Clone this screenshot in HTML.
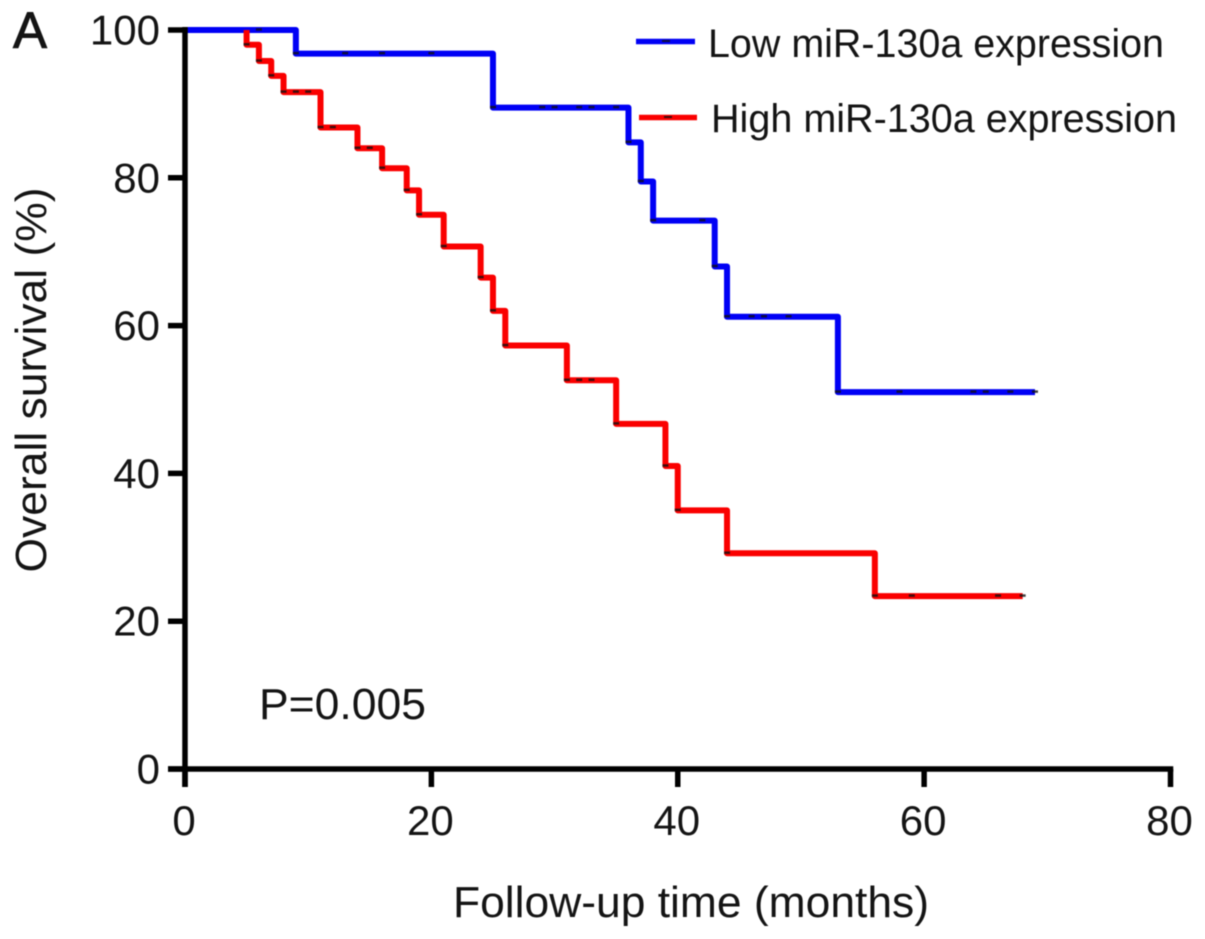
<!DOCTYPE html>
<html>
<head>
<meta charset="utf-8">
<style>
html,body{margin:0;padding:0;background:#fff;width:1205px;height:939px;overflow:hidden}
svg{display:block;filter:blur(0.55px)}
text{font-family:"Liberation Sans",sans-serif;fill:#141414}
</style>
</head>
<body>
<svg id="chart" width="1205" height="939" viewBox="0 0 1205 939" xmlns="http://www.w3.org/2000/svg"></svg>
<script>
const xTicks = [0, 20, 40, 60, 80];
const yTicks = [0, 20, 40, 60, 80, 100];
const lowMonths = [0, 9, 25, 36, 37, 38, 43, 44, 53, 69];
const lowSurvival = [100, 96.8, 89.5, 84.8, 79.5, 74.2, 68, 61.2, 51, 51];
const lowCensorMonths = [6, 9, 13, 16, 20, 25, 29, 30, 32, 33, 35, 36, 37, 38, 42, 43, 44, 46, 47, 49, 53, 58, 64, 65, 67, 69];
const highMonths = [5, 5, 6, 7, 8, 11, 14, 16, 18, 19, 21, 24, 25, 26, 31, 35, 39, 40, 44, 56, 68];
const highSurvival = [100, 98, 95.8, 93.8, 91.6, 86.8, 84, 81.3, 78.3, 75, 70.7, 66.5, 62, 57.3, 52.6, 46.7, 41, 35, 29.2, 23.4, 23.4];
const highCensorMonths = [5, 6, 7, 8, 9, 10, 11, 12, 14, 15, 16, 18, 19, 21, 24, 25, 26, 31, 32, 33, 35, 39, 40, 44, 56, 59, 66, 68];

const svg = document.getElementById('chart');
const NS = 'http://www.w3.org/2000/svg';
const xScale = m => 185 + (m / 80) * 985.5;
const yScale = v => 769 - (v / 100) * 739;

function make(tag, attrs, parent) {
  const el = document.createElementNS(NS, tag);
  for (const k in attrs) el.setAttribute(k, attrs[k]);
  (parent || svg).appendChild(el);
  return el;
}
function stepValue(months, values, m) {
  let v = values[0];
  for (let i = 0; i < months.length; i++) if (months[i] <= m) v = values[i];
  return v;
}
function stepPath(months, values) {
  let d = 'M' + xScale(months[0]) + ' ' + yScale(values[0]);
  for (let i = 1; i < months.length; i++) {
    d += 'H' + xScale(months[i]) + 'V' + yScale(values[i]);
  }
  return d;
}
function drawSeries(name, color, months, values, censors) {
  const path = make('path', {d: stepPath(months, values), fill: 'none', stroke: color, 'stroke-width': 6, 'stroke-linejoin': 'round'});
  
  
  censors.forEach(m => {
    const x = xScale(m), y = yScale(stepValue(months, values, m));
    const mark = make('line', {x1: x - 3, x2: x + 3, y1: y - 0.5, y2: y - 0.5, stroke: '#111', 'stroke-width': 2.5, opacity: 0.8});
    
    
  });
}

drawSeries('low-expression', '#0000f5', lowMonths, lowSurvival, lowCensorMonths);
drawSeries('high-expression', '#fa0000', highMonths, highSurvival, highCensorMonths);

const yAxis = make('line', {x1: xScale(0), x2: xScale(0), y1: yScale(100) - 3, y2: 787, stroke: '#000', 'stroke-width': 5.5});


const xAxis = make('line', {x1: 168, x2: xScale(80) + 2.75, y1: yScale(0), y2: yScale(0), stroke: '#000', 'stroke-width': 5.5});



xTicks.forEach(t => {
  const x = xScale(t);
  const tick = make('line', {x1: x, x2: x, y1: yScale(0), y2: 787, stroke: '#000', 'stroke-width': 5.5});
  
  
  const label = make('text', {x: x - 1, y: 835, 'font-size': 42, 'text-anchor': 'middle'});
  label.textContent = t;
  
  
});
yTicks.forEach(t => {
  const y = yScale(t);
  const tick = make('line', {x1: 168, x2: xScale(0), y1: y, y2: y, stroke: '#000', 'stroke-width': 5.5});
  
  
  const label = make('text', {x: 160, y: y + 14.5, 'font-size': 42, 'text-anchor': 'end'});
  label.textContent = t;
  
  
});

const legendLow = make('line', {x1: 636, x2: 695, y1: 41.5, y2: 41.5, stroke: '#0000f5', 'stroke-width': 5.5});


const legendLowMark = make('line', {x1: 662, x2: 670, y1: 41, y2: 41, stroke: '#111', 'stroke-width': 2, opacity: 0.8});


const legendHigh = make('line', {x1: 639, x2: 697, y1: 117.5, y2: 117.5, stroke: '#fa0000', 'stroke-width': 5.5});


const legendHighMark = make('line', {x1: 664, x2: 672, y1: 117, y2: 117, stroke: '#111', 'stroke-width': 2, opacity: 0.8});


</script>
<svg width="1205" height="939" viewBox="0 0 1205 939" xmlns="http://www.w3.org/2000/svg" style="position:absolute;left:0;top:0">
  <text x="13" y="48" font-size="51" stroke="#141414" stroke-width="0.9">A</text>
  <text transform="translate(46,380) rotate(-90)" font-size="44" text-anchor="middle" textLength="385" lengthAdjust="spacingAndGlyphs">Overall survival (%)</text>
  <text x="691" y="917" font-size="44" text-anchor="middle" textLength="476" lengthAdjust="spacingAndGlyphs">Follow-up time (months)</text>
  <text x="259" y="719" font-size="44" textLength="167" lengthAdjust="spacingAndGlyphs">P=0.005</text>
  <text x="708" y="57" font-size="40" textLength="456" lengthAdjust="spacingAndGlyphs">Low miR-130a expression</text>
  <text x="711" y="132" font-size="40" textLength="466" lengthAdjust="spacingAndGlyphs">High miR-130a expression</text>
</svg>
</body>
</html>
